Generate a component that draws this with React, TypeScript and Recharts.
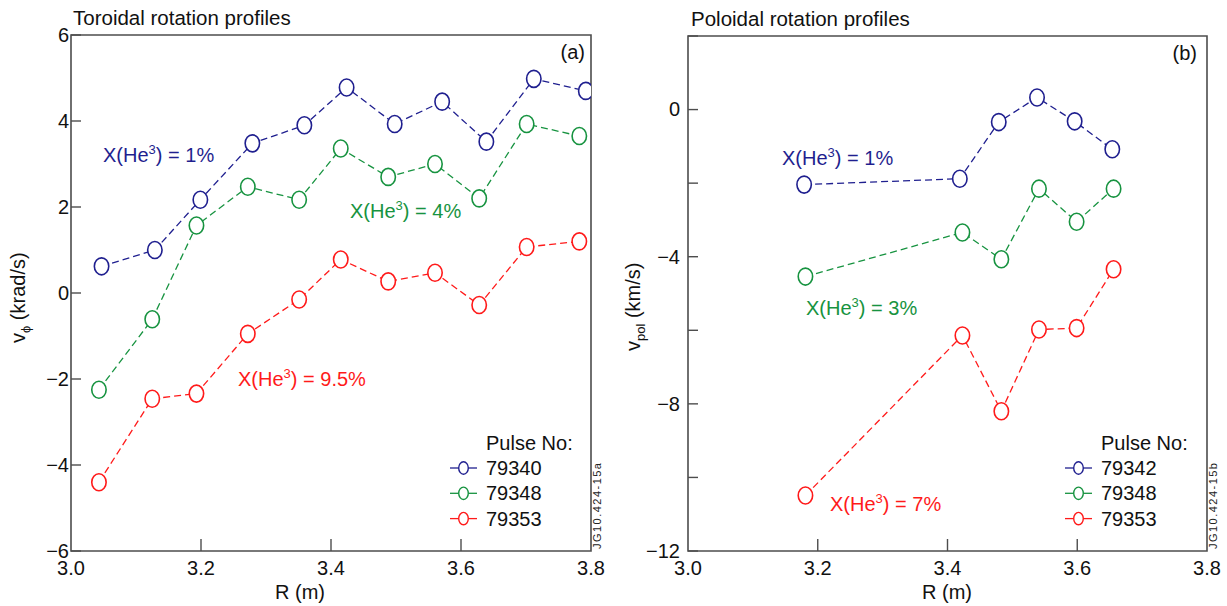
import React from 'react';
import { LineChart, Line, XAxis, YAxis, ReferenceArea, Customized } from 'recharts';

// ---------- Data: panel (a) toroidal rotation ----------
const rTor1 = [3.047, 3.129, 3.199, 3.279, 3.359, 3.424, 3.498, 3.571, 3.639, 3.712, 3.792];
const vTor79340 = [0.62, 1.0, 2.17, 3.48, 3.9, 4.78, 3.93, 4.45, 3.52, 4.98, 4.7];
const rTor2 = [3.043, 3.125, 3.193, 3.272, 3.351, 3.415, 3.488, 3.56, 3.628, 3.701, 3.782];
const vTor79348 = [-2.25, -0.61, 1.57, 2.47, 2.17, 3.36, 2.7, 3.0, 2.2, 3.93, 3.65];
const vTor79353 = [-4.4, -2.46, -2.34, -0.95, -0.15, 0.78, 0.27, 0.47, -0.28, 1.07, 1.2];

// ---------- Data: panel (b) poloidal rotation ----------
const rPol1 = [3.179, 3.419, 3.479, 3.538, 3.596, 3.654];
const vPol79342 = [-2.04, -1.88, -0.34, 0.33, -0.32, -1.08];
const rPol2 = [3.181, 3.423, 3.483, 3.541, 3.599, 3.656];
const vPol79348 = [-4.54, -3.34, -4.07, -2.15, -3.05, -2.15];
const vPol79353 = [-10.49, -6.14, -8.2, -5.98, -5.94, -4.34];

// ---------- Axis ticks ----------
const xTicks = [3.0, 3.2, 3.4, 3.6, 3.8];
const yTicksTor = [-6, -4, -2, 0, 2, 4, 6];
const yTicksPol = [-12, -10, -8, -6, -4, -2, 0, 2];
const yLabelsPol = [-12, -8, -4, 0];

const pulsesA = ['79340', '79348', '79353'];
const pulsesB = ['79342', '79348', '79353'];
const heA = ['1%', '4%', '9.5%'];
const heB = ['1%', '3%', '7%'];

const BLUE = '#1f1f8f';
const GREEN = '#179340';
const RED = '#ff1a1a';
const COLORS = [BLUE, GREEN, RED];
const FRAME = '#4d4d4d';
const FONT = '"Liberation Sans", Arial, Helvetica, sans-serif';
const PHI = '\u03d5';
const X_MARGIN = 10;

const zip = (xs: number[], ys: number[]) => xs.map((x, i) => ({ x, y: ys[i] }));

const torSeries = [zip(rTor1, vTor79340), zip(rTor2, vTor79348), zip(rTor2, vTor79353)];
const polSeries = [zip(rPol1, vPol79342), zip(rPol2, vPol79348), zip(rPol2, vPol79353)];

const fmt = (v: number) => (v < 0 ? '\u2212' + Math.abs(v) : String(v));

const makeDot = (color: string) => (props: any) => {
  const { cx, cy, index } = props;
  if (cx == null || cy == null) return <g key={index} />;
  return <ellipse key={index} cx={cx} cy={cy} rx={7.2} ry={8.5} fill="#fff" stroke={color} strokeWidth={1.6} />;
};

const makeYTick = (labels: number[] | null, gap: number) => (props: any) => {
  const { x, y, payload } = props;
  const v = payload.value;
  const show = labels === null || labels.includes(v);
  return (
    <g>
      <line x1={x + gap} y1={y} x2={x + gap + 10} y2={y} stroke={FRAME} strokeWidth={1.4} />
      {show && (
        <text x={x} y={y} dy="0.34em" textAnchor="end" fontSize={20} fontFamily={FONT} fill="#111">
          {fmt(v)}
        </text>
      )}
    </g>
  );
};

const XTick = (props: any) => {
  const { x, y, payload } = props;
  const v = payload.value;
  const edge = v === 3.0 || v === 3.8;
  return (
    <g>
      {!edge && <line x1={x} y1={y - X_MARGIN} x2={x} y2={y - X_MARGIN - 12} stroke={FRAME} strokeWidth={1.4} />}
      <text x={x} y={y} dy="0.72em" textAnchor="middle" fontSize={20} fontFamily={FONT} fill="#111">
        {v.toFixed(1)}
      </text>
    </g>
  );
};

const He = ({ x, y, color, val }: { x: number; y: number; color: string; val: string }) => (
  <text x={x} y={y} fontSize={20} fontFamily={FONT} fill={color}>
    X(He
    <tspan dy={-8} fontSize={13}>3</tspan>
    <tspan dy={8}>) = {val}</tspan>
  </text>
);

const LegendBlock = ({ x, y, names }: { x: number; y: number; names: string[] }) => (
  <g>
    <text x={x + 36} y={y} fontSize={20} fontFamily={FONT} fill="#111">Pulse No:</text>
    {names.map((n, i) => {
      const cy = y + 18 + i * 25.3;
      return (
        <g key={n + i}>
          <line x1={x} y1={cy} x2={x + 27} y2={cy} stroke={COLORS[i]} strokeWidth={1.3} />
          <ellipse cx={x + 13.5} cy={cy} rx={4.8} ry={6.2} fill="#fff" stroke={COLORS[i]} strokeWidth={1.4} />
          <text x={x + 36} y={cy + 7} fontSize={20} fontFamily={FONT} fill="#111">{n}</text>
        </g>
      );
    })}
  </g>
);

const overlayA = () => (
  <g>
    <text x={73} y={25} fontSize={20.5} fontFamily={FONT} fill="#111">Toroidal rotation profiles</text>
    <text x={585} y={59} textAnchor="end" fontSize={20} fontFamily={FONT} fill="#111">(a)</text>
    <He x={103} y={162} color={BLUE} val={heA[0]} />
    <He x={350} y={218} color={GREEN} val={heA[1]} />
    <He x={238} y={386} color={RED} val={heA[2]} />
    <LegendBlock x={450} y={450} names={pulsesA} />
    <text transform="translate(25,343) rotate(-90)" fontSize={20} fontFamily={FONT} fill="#111">
      v<tspan dy={5} fontSize={13}>{PHI}</tspan>
      <tspan dy={-5}> (krad/s)</tspan>
    </text>
    <text x={300} y={599} textAnchor="middle" fontSize={20} fontFamily={FONT} fill="#111">R (m)</text>
    <text transform="translate(601,549) rotate(-90)" fontSize={11} textLength={86} lengthAdjust="spacing" fontFamily={FONT} fill="#222">JG10.424-15a</text>
  </g>
);

const overlayB = () => (
  <g>
    <text x={91} y={26} fontSize={20.5} fontFamily={FONT} fill="#111">Poloidal rotation profiles</text>
    <text x={597} y={60} textAnchor="end" fontSize={20} fontFamily={FONT} fill="#111">(b)</text>
    <He x={182} y={165} color={BLUE} val={heB[0]} />
    <He x={206} y={315} color={GREEN} val={heB[1]} />
    <He x={230} y={511} color={RED} val={heB[2]} />
    <LegendBlock x={465} y={450} names={pulsesB} />
    <text transform="translate(40,351) rotate(-90)" fontSize={20} fontFamily={FONT} fill="#111">
      v<tspan dy={5} fontSize={13}>pol</tspan>
      <tspan dy={-5}> (km/s)</tspan>
    </text>
    <text x={347} y={599} textAnchor="middle" fontSize={20} fontFamily={FONT} fill="#111">R (m)</text>
    <text transform="translate(617,549) rotate(-90)" fontSize={11} textLength={86} lengthAdjust="spacing" fontFamily={FONT} fill="#222">JG10.424-15b</text>
  </g>
);

const Panel = ({
  width, margin, yWidth, yDomain, yTicks, yLabels, gap, series, overlay,
}: any) => (
  <LineChart width={width} height={606} margin={margin}>
    <XAxis
      dataKey="x"
      type="number"
      domain={[3.0, 3.8]}
      ticks={xTicks}
      allowDataOverflow
      axisLine={false}
      tickLine={false}
      tickSize={0}
      tickMargin={X_MARGIN}
      height={30}
      tick={<XTick />}
      interval={0}
    />
    <YAxis
      type="number"
      domain={yDomain}
      ticks={yTicks}
      allowDataOverflow
      axisLine={false}
      tickLine={false}
      tickSize={0}
      tickMargin={gap}
      width={yWidth}
      tick={makeYTick(yLabels, gap)}
      interval={0}
    />
    <ReferenceArea x1={3.0} x2={3.8} y1={yDomain[0]} y2={yDomain[1]} fill="none" fillOpacity={0} stroke={FRAME} strokeWidth={1.6} />
    {series.map((d: any[], i: number) => (
      <Line
        key={i}
        data={d}
        dataKey="y"
        type="linear"
        stroke={COLORS[i]}
        strokeWidth={1.3}
        strokeDasharray="7 4"
        dot={makeDot(COLORS[i])}
        activeDot={false}
        isAnimationActive={false}
      />
    ))}
    <Customized component={overlay} />
  </LineChart>
);

export default function App() {
  return (
    <div style={{ position: 'absolute', left: 0, top: 0, width: 1227, height: 606, background: '#fff' }}>
      <div style={{ position: 'absolute', left: 0, top: 0 }}>
        <Panel
          width={625}
          margin={{ top: 35, right: 34, bottom: 25, left: 31 }}
          yWidth={40}
          yDomain={[-6, 6]}
          yTicks={yTicksTor}
          yLabels={null}
          gap={2}
          series={torSeries}
          overlay={overlayA}
        />
      </div>
      <div style={{ position: 'absolute', left: 600, top: 0 }}>
        <Panel
          width={627}
          margin={{ top: 36, right: 20, bottom: 25, left: 38 }}
          yWidth={50}
          yDomain={[-12, 2]}
          yTicks={yTicksPol}
          yLabels={yLabelsPol}
          gap={8}
          series={polSeries}
          overlay={overlayB}
        />
      </div>
    </div>
  );
}
